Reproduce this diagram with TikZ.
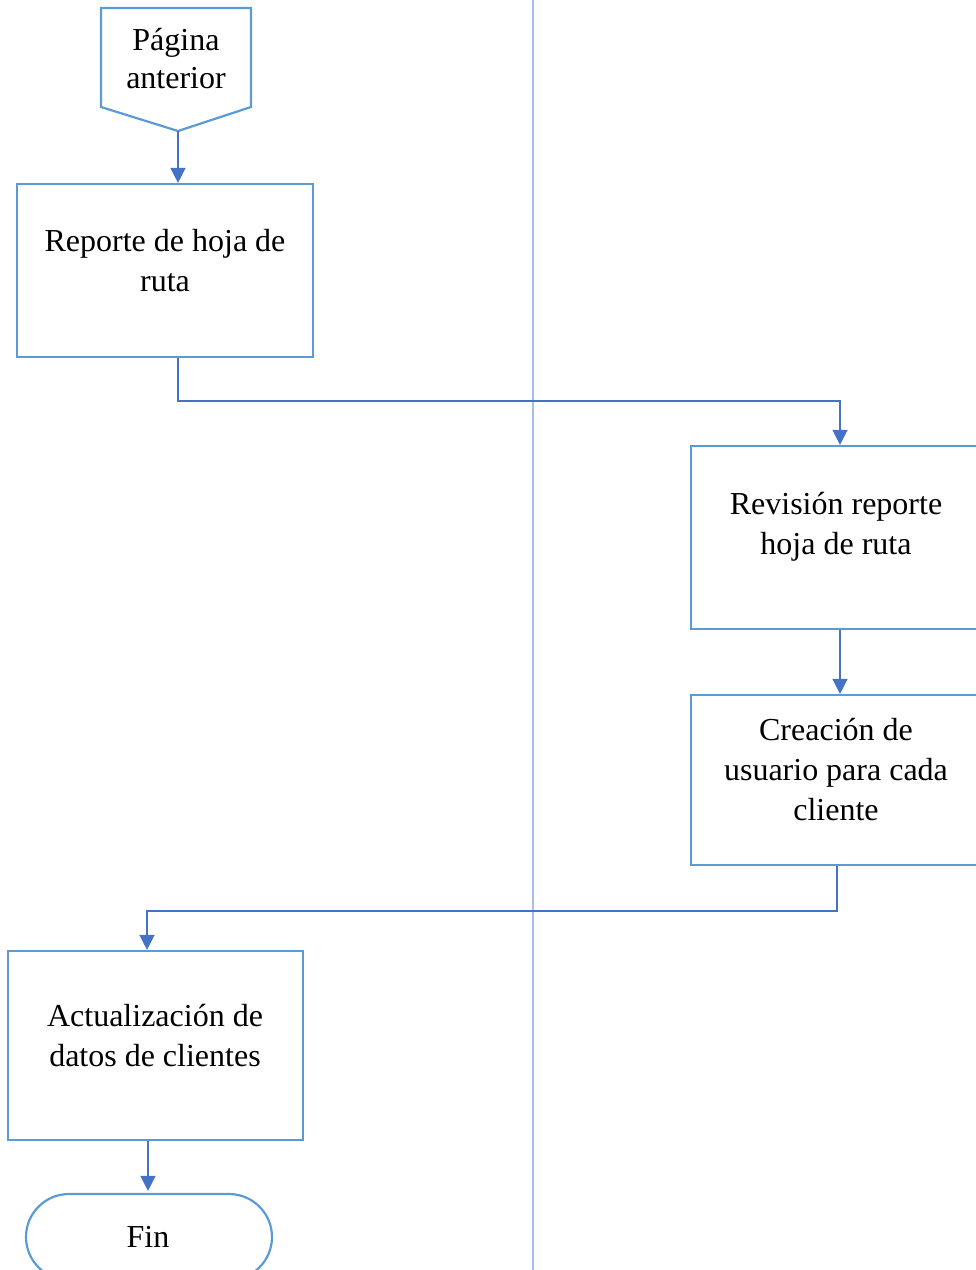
\documentclass[tikz,border=0pt]{standalone}
\usepackage{fontspec}
\setmainfont{Liberation Serif}
\usetikzlibrary{arrows.meta,calc}
\definecolor{boxblue}{HTML}{5B9BD5}
\definecolor{linkblue}{HTML}{4472C4}
\definecolor{laneblue}{HTML}{A9C1E6}
\begin{document}
\begin{tikzpicture}[x=1pt,y=-1pt,
  box/.style={draw=boxblue,line width=2.2pt,fill=white,inner sep=0pt},
  txt/.style={align=center,inner sep=0pt,font=\fontsize{32}{40}\selectfont},
  arr/.style={draw=linkblue,line width=1.4pt,-{Triangle[length=15pt,width=15pt]}},
  lane/.style={draw=laneblue,line width=1.2pt}]
\useasboundingbox (0,0) rectangle (976,1270);
\clip (0,0) rectangle (976,1270);

% swimlane separator
\draw[lane] (533,0) -- (533,1270);

% off-page connector
\draw[box,line join=miter] (101,8) -- (251,8) -- (251,107) -- (178,131) -- (101,107) -- cycle;
\node[txt,font=\fontsize{32}{38}\selectfont] (prev) at (176,59) {Página\\anterior};
\coordinate (tip) at (178,131);

% process boxes
\node[box,minimum width=296pt,minimum height=173pt] (b1) at (165,270.5) {};
\node[txt] (b1t) at (165,261) {Reporte de hoja de\\ruta};

\node[box,minimum width=290pt,minimum height=183pt] (b2) at (836,537.5) {};
\node[txt] (b2t) at (836,527) {Revisión reporte\\hoja de ruta};

\node[box,minimum width=290pt,minimum height=170pt] (b3) at (836,780) {};
\node[txt] (b3t) at (836,770) {Creación de\\usuario para cada\\cliente};

\node[box,minimum width=295pt,minimum height=189pt] (b4) at (155.5,1045.5) {};
\node[txt] (b4t) at (155,1036) {Actualización de\\datos de clientes};

% terminator
\node[box,rounded corners=43pt,minimum width=246pt,minimum height=86pt] (fin) at (149,1237) {};
\node[txt] (fint) at (148,1237) {Fin};

% connectors
\coordinate (c1) at (840,401);
\coordinate (c2) at (837,911);
\coordinate (c3) at (147,911);
\draw[arr] (tip) -- (tip |- b1.north);
\draw[arr] (tip |- b1.south) |- (c1) -- (c1 |- b2.north);
\draw[arr] (c1 |- b2.south) -- (c1 |- b3.north);
\draw[arr] (c2 |- b3.south) -- (c2) -- (c3) -- (c3 |- b4.north);
\draw[arr] ($(c3 |- b4.south)+(1,0)$) -- ($(c3 |- fin.north)+(1,-2)$);
\end{tikzpicture}
\end{document}
